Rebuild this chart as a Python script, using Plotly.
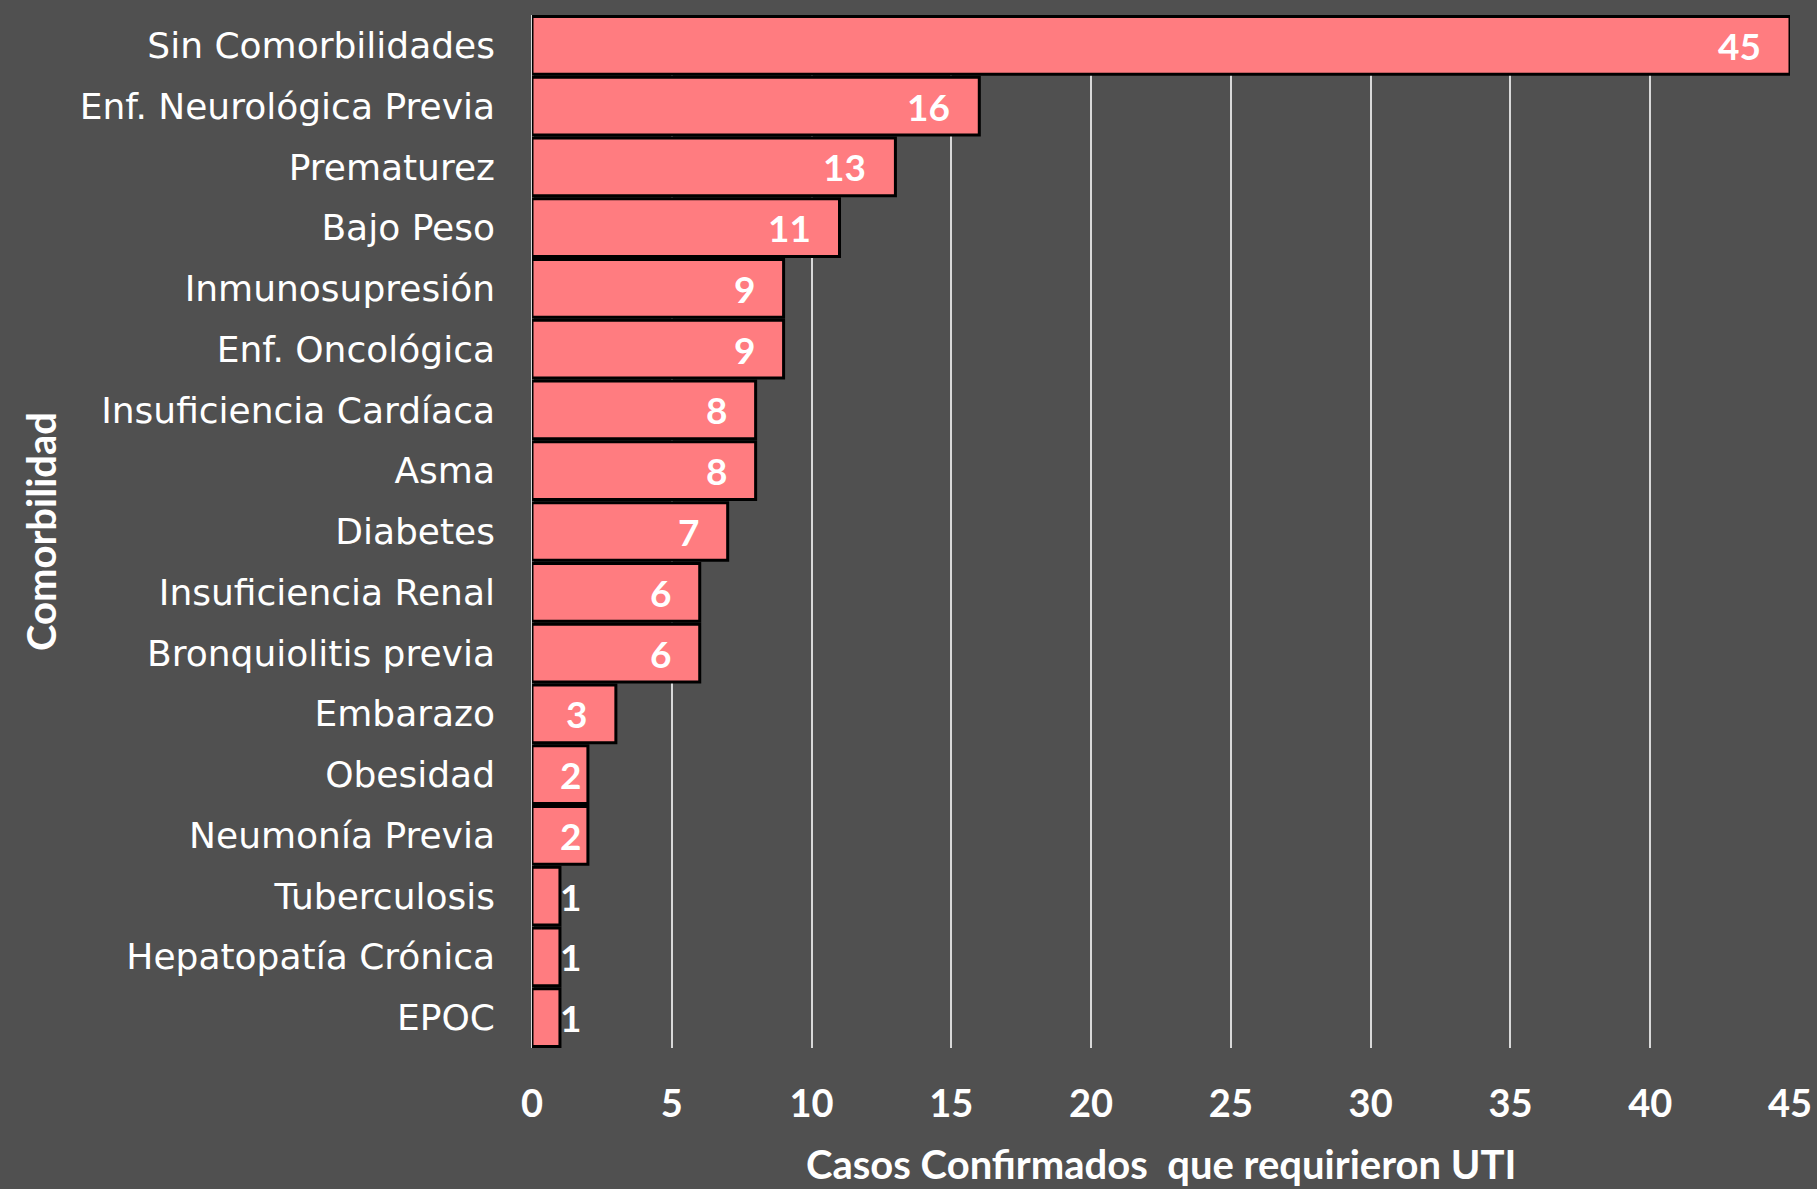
import plotly.graph_objects as go

categories = ["Sin Comorbilidades", "Enf. Neurológica Previa", "Prematurez", "Bajo Peso",
              "Inmunosupresión", "Enf. Oncológica", "Insuficiencia Cardíaca", "Asma",
              "Diabetes", "Insuficiencia Renal", "Bronquiolitis previa", "Embarazo",
              "Obesidad", "Neumonía Previa", "Tuberculosis", "Hepatopatía Crónica", "EPOC"]
values = [45, 16, 13, 11, 9, 9, 8, 8, 7, 6, 6, 3, 2, 2, 1, 1, 1]
x_ticks = [0, 5, 10, 15, 20, 25, 30, 35, 40, 45]
x_title = "Casos Confirmados  que requirieron UTI"
y_title = "Comorbilidad"

BG = "#505050"
BAR = "#FF7C80"
GRID = "#d9d9d9"
FONT = "Lato"
CAT_FONT = "DejaVu Sans"

fig = go.Figure()
fig.add_trace(go.Bar(
    y=categories, x=values, orientation="h",
    marker=dict(color=BAR, line=dict(color="black", width=3)),
    hoverinfo="x+y",
))

# data labels: inside end, pushed past the bar base when the bar is too short
ann = []
for c, v in zip(categories, values):
    px_len = v * (1258 / 45)
    label_w = 20 * len(str(v))
    if px_len - 28 - label_w >= 28:
        ann.append(dict(x=v, y=c, xref="x", yref="y", text=f"<b>{v}</b>", showarrow=False,
                        xanchor="right", xshift=-27,
                        font=dict(family=FONT, size=37, color="white")))
    else:
        ann.append(dict(x=0, y=c, xref="x", yref="y", text=f"<b>{v}</b>", showarrow=False,
                        xanchor="left", xshift=26,
                        font=dict(family=FONT, size=37, color="white")))

# x-axis title near the bottom edge
ann.append(dict(x=0.5, y=0, xref="paper", yref="paper", text=f"<b>{x_title}</b>",
                showarrow=False, xanchor="center", yanchor="middle", yshift=-116,
                font=dict(family=FONT, size=40, color="white")))

fig.update_layout(
    width=1817, height=1189,
    paper_bgcolor=BG, plot_bgcolor=BG,
    margin=dict(l=532, r=27, t=15, b=141),
    bargap=0.05,
    showlegend=False,
    annotations=ann,
    font=dict(family=FONT, color="white", size=35),
    xaxis=dict(
        range=[0, 45], tickvals=x_ticks, ticktext=[f"<b>{t}</b>" for t in x_ticks],
        showgrid=True, gridcolor=GRID, gridwidth=2,
        zeroline=True, zerolinecolor=GRID, zerolinewidth=3,
        showline=False, ticks="", ticklabelstandoff=30,
        tickfont=dict(family=FONT, size=38, color="white"),
        automargin=False,
    ),
    yaxis=dict(
        categoryorder="array", categoryarray=categories,
        range=[16.5, -0.5], showgrid=False, zeroline=False, showline=False,
        ticks="", ticklabelstandoff=36,
        tickfont=dict(family=CAT_FONT, size=36, color="white"),
        title=dict(text=f"<b>{y_title}</b>",
                   font=dict(family=FONT, size=40, color="white"), standoff=10),
        automargin=False,
    ),
)

fig.write_html("out.html", config={"displayModeBar": False},
               post_script="document.body.style.margin='0';")
